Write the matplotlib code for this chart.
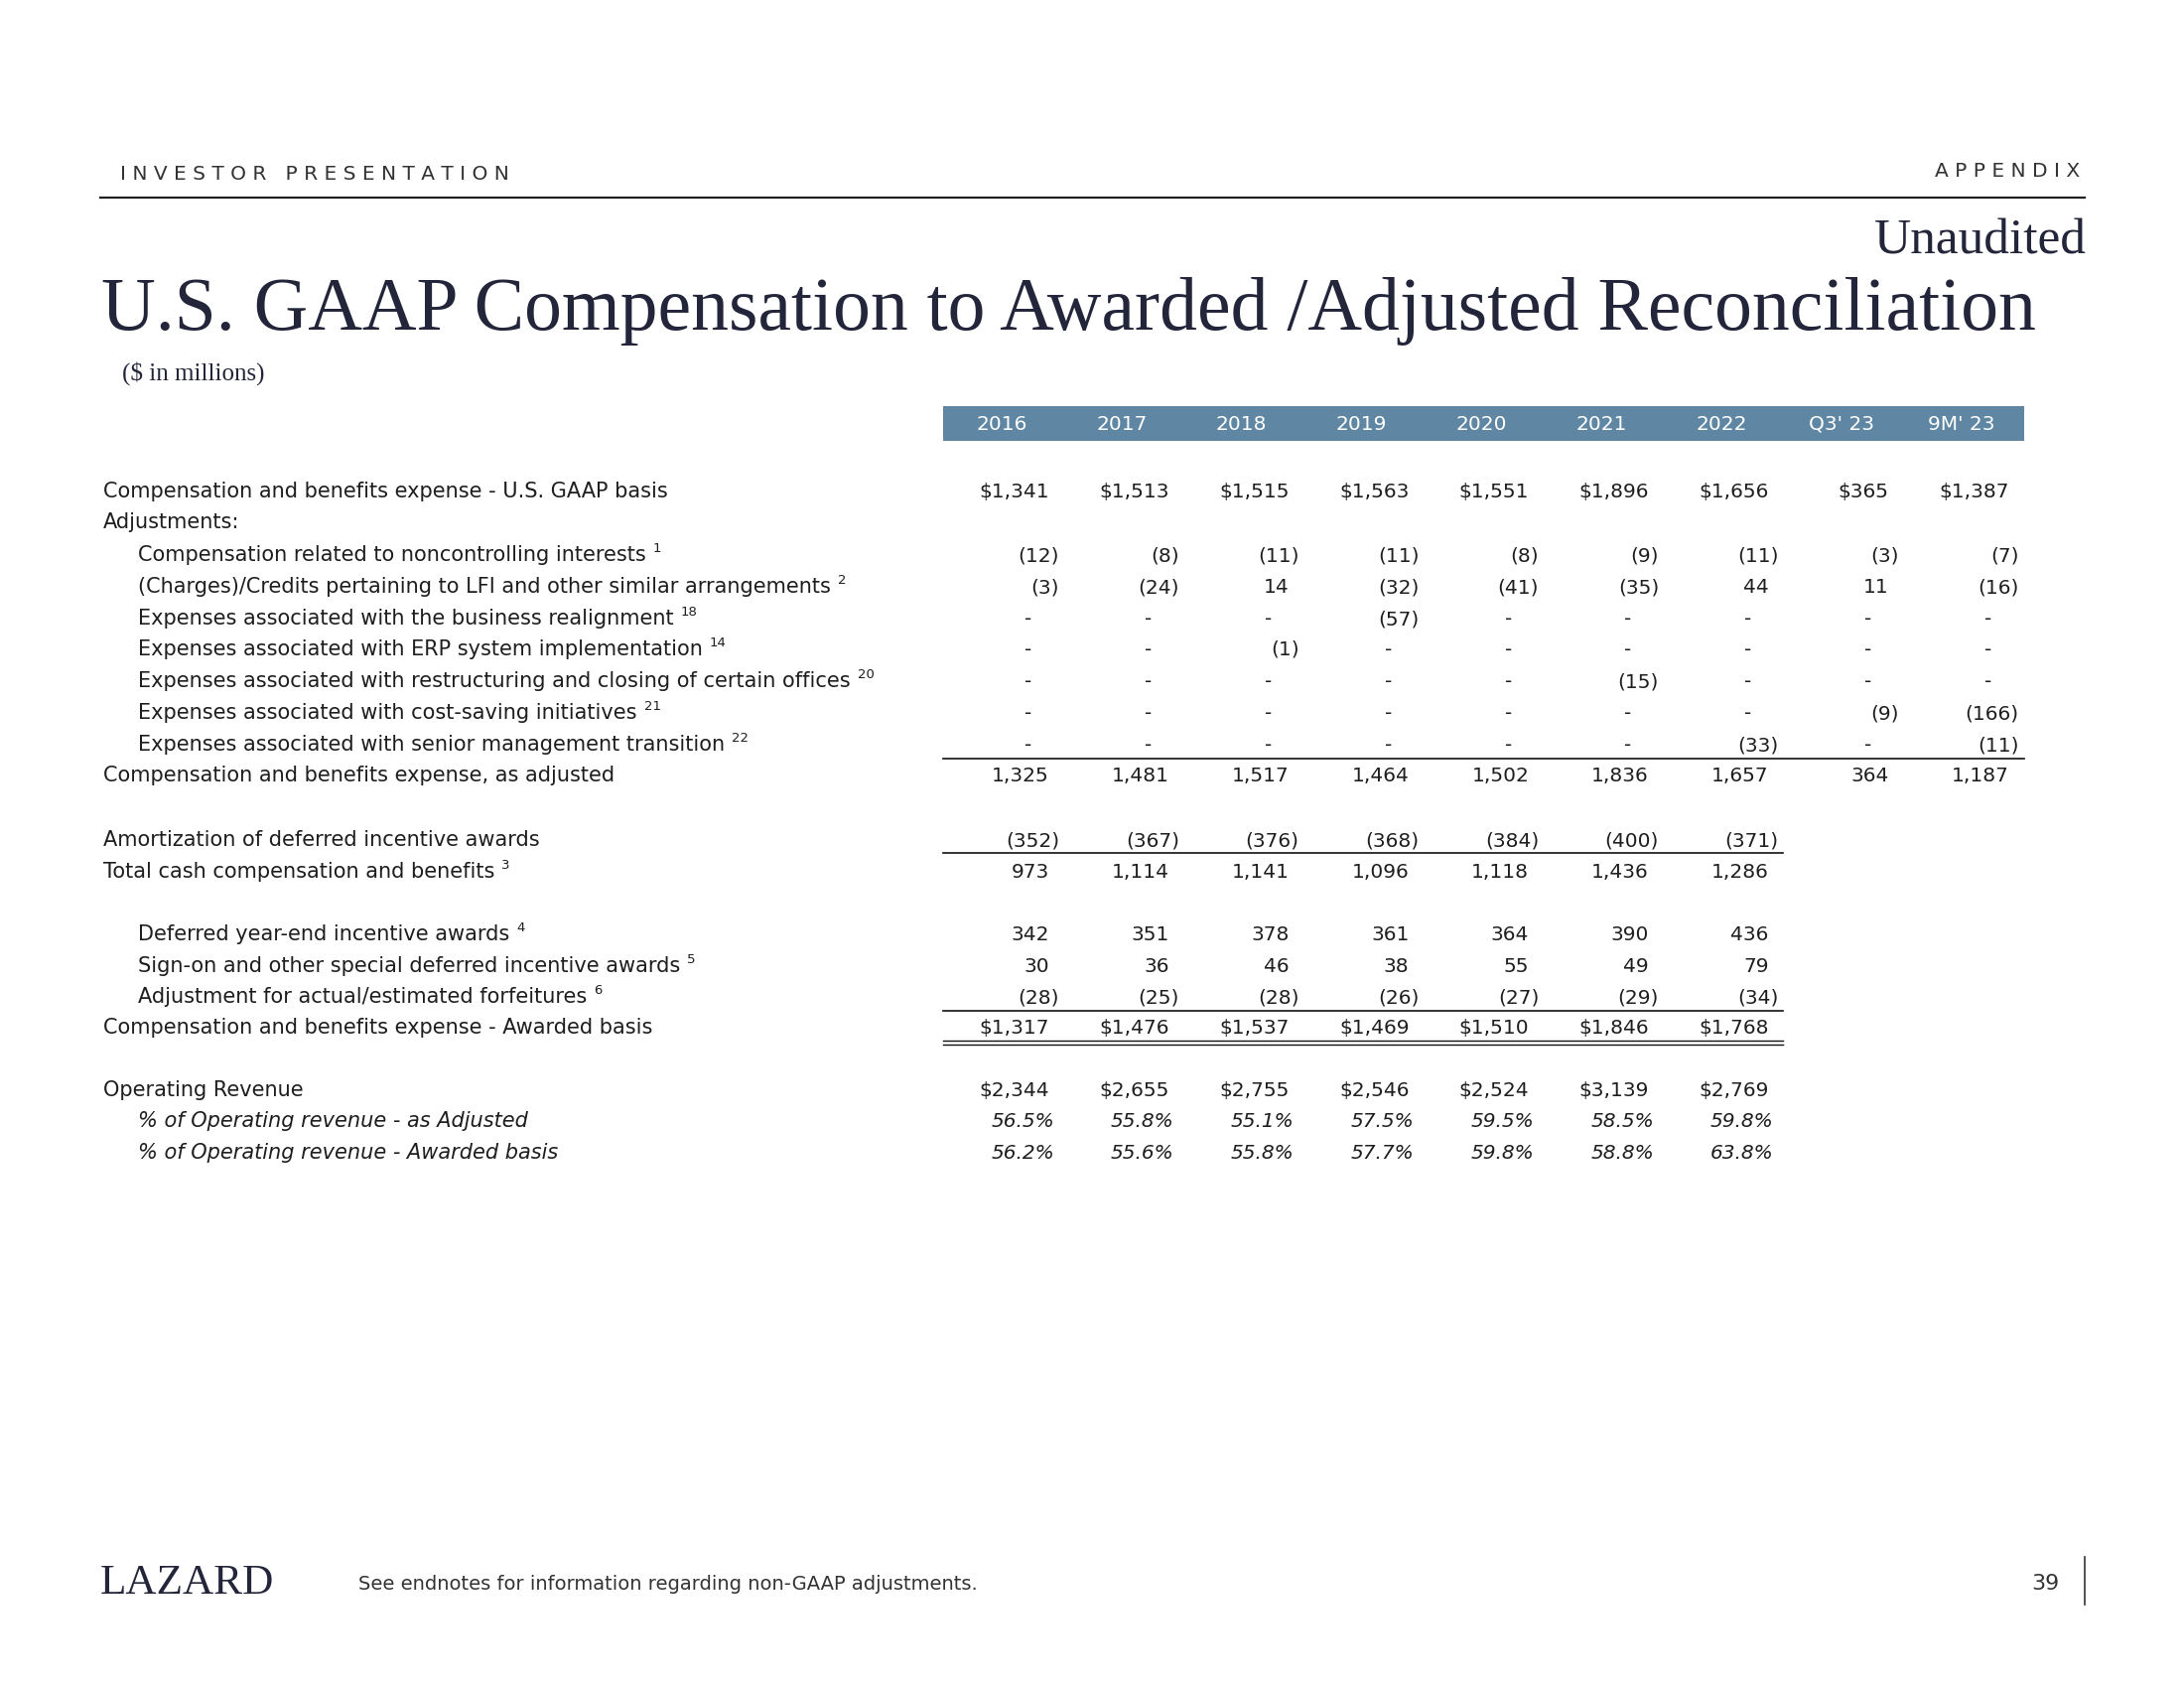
import matplotlib
matplotlib.use('Agg')
import matplotlib.pyplot as plt

# ---- data ----
columns = ['2016', '2017', '2018', '2019', '2020', '2021', '2022', "Q3' 23", "9M' 23"]

gaap_comp = [1341, 1513, 1515, 1563, 1551, 1896, 1656, 365, 1387]
nci_comp = [-12, -8, -11, -11, -8, -9, -11, -3, -7]
lfi_charges = [-3, -24, 14, -32, -41, -35, 44, 11, -16]
realignment = [0, 0, 0, -57, 0, 0, 0, 0, 0]
erp_impl = [0, 0, -1, 0, 0, 0, 0, 0, 0]
restructuring = [0, 0, 0, 0, 0, -15, 0, 0, 0]
cost_saving = [0, 0, 0, 0, 0, 0, 0, -9, -166]
senior_mgmt = [0, 0, 0, 0, 0, 0, -33, 0, -11]
adjusted_comp = [1325, 1481, 1517, 1464, 1502, 1836, 1657, 364, 1187]

amortization = [-352, -367, -376, -368, -384, -400, -371]
total_cash = [973, 1114, 1141, 1096, 1118, 1436, 1286]
deferred_awards = [342, 351, 378, 361, 364, 390, 436]
signon_awards = [30, 36, 46, 38, 55, 49, 79]
forfeitures = [-28, -25, -28, -26, -27, -29, -34]
awarded_comp = [1317, 1476, 1537, 1469, 1510, 1846, 1768]

operating_revenue = [2344, 2655, 2755, 2546, 2524, 3139, 2769]
pct_adjusted = [56.5, 55.8, 55.1, 57.5, 59.5, 58.5, 59.8]
pct_awarded = [56.2, 55.6, 55.8, 57.7, 59.8, 58.8, 63.8]

# label, superscript, indented, values, kind, y-centre
rows = [
    ('Compensation and benefits expense - U.S. GAAP basis', '', False, gaap_comp, 'dollar', 494),
    ('Adjustments:', '', False, None, 'num', 525),
    ('Compensation related to noncontrolling interests', '1', True, nci_comp, 'num', 558),
    ('(Charges)/Credits pertaining to LFI and other similar arrangements', '2', True, lfi_charges, 'num', 590),
    ('Expenses associated with the business realignment', '18', True, realignment, 'num', 622),
    ('Expenses associated with ERP system implementation', '14', True, erp_impl, 'num', 653),
    ('Expenses associated with restructuring and closing of certain offices', '20', True, restructuring, 'num', 685),
    ('Expenses associated with cost-saving initiatives', '21', True, cost_saving, 'num', 717),
    ('Expenses associated with senior management transition', '22', True, senior_mgmt, 'num', 749),
    ('Compensation and benefits expense, as adjusted', '', False, adjusted_comp, 'num', 780),
    ('Amortization of deferred incentive awards', '', False, amortization, 'num', 845),
    ('Total cash compensation and benefits', '3', False, total_cash, 'num', 877),
    ('Deferred year-end incentive awards', '4', True, deferred_awards, 'num', 940),
    ('Sign-on and other special deferred incentive awards', '5', True, signon_awards, 'num', 972),
    ('Adjustment for actual/estimated forfeitures', '6', True, forfeitures, 'num', 1003),
    ('Compensation and benefits expense - Awarded basis', '', False, awarded_comp, 'dollar', 1034),
    ('Operating Revenue', '', False, operating_revenue, 'dollar', 1097),
    ('% of Operating revenue - as Adjusted', '', True, pct_adjusted, 'pct', 1128),
    ('% of Operating revenue - Awarded basis', '', True, pct_awarded, 'pct', 1160),
]

sans = ['DejaVu Sans']
serif = ['Liberation Serif', 'DejaVu Serif']
navy = '#23263a'
ink = '#1e1e1e'
bar_col = '#5f87a3'
fs_label = 15
fs_num = 14.5

fig = plt.figure(figsize=(22, 17), dpi=100)
ax = fig.add_axes([0, 0, 1, 1])
ax.set_xlim(0, 2200)
ax.set_ylim(1700, 0)
ax.axis('off')
renderer = fig.canvas.get_renderer()


def fit_text(x, y, s, width, size, **kw):
    t = ax.text(x, y, s, fontsize=size, **kw)
    w = t.get_window_extent(renderer).width
    t.set_fontsize(size * width / w)
    return t


def fmt(v, kind):
    if v == 0:
        return '-'
    if kind == 'pct':
        return f'{v:.1f}%'
    s = f'{abs(v):,}'
    if kind == 'dollar':
        s = '$' + s
    return f'({s})' if v < 0 else s


# ---- header ----
ax.text(121, 181, ' '.join('INVESTOR') + '   ' + ' '.join('PRESENTATION'),
        fontsize=14.5, family=sans, color='#333333', va='baseline')
ax.text(2095, 178, ' '.join('APPENDIX'), fontsize=14.5, family=sans,
        color='#333333', va='baseline', ha='right')
ax.plot([101, 2100], [199, 199], color='#222222', lw=1.6)
ax.text(2102, 255, 'Unaudited', fontsize=37, family=serif, color=navy,
        ha='right', va='baseline')
fit_text(102, 332, 'U.S. GAAP Compensation to Awarded /Adjusted Reconciliation',
         1946, 55, family=serif, color=navy, va='baseline')
ax.text(123, 383, '($ in millions)', fontsize=18, family=serif, color=navy,
        va='baseline')

# ---- table header bar ----
col_right = [1057 + 120.8 * i for i in range(len(columns))]
ax.fill_between([950, 2039], 409, 444, color=bar_col, lw=0)
for i, c in enumerate(columns):
    ax.text(col_right[i] - 48, 427, c, fontsize=fs_num, family=sans,
            color='white', ha='center', va='center')

# ---- rows ----
for label, sup, indent, vals, kind, yc in rows:
    x0 = 139 if indent else 104
    base = yc + 7
    t = ax.text(x0, base, label, fontsize=fs_label, family=sans, color=ink,
                va='baseline', style='italic' if kind == 'pct' else 'normal')
    if sup:
        bb = t.get_window_extent(renderer)
        xe = ax.transData.inverted().transform((bb.x1, bb.y0))[0]
        ax.text(xe + 7, base - 9, sup, fontsize=9.5, family=sans, color=ink,
                va='baseline')
    if vals is None:
        continue
    for i, v in enumerate(vals):
        s = fmt(v, kind)
        if s == '-':
            ax.text(col_right[i] - 21, base, s, fontsize=fs_num, family=sans,
                    color=ink, ha='center', va='baseline')
        elif kind == 'pct':
            ax.text(col_right[i] + 5, base, s, fontsize=fs_num, family=sans,
                    color=ink, ha='right', va='baseline', style='italic')
        else:
            xr = col_right[i] + 10 if v < 0 else col_right[i]
            ax.text(xr, base, s, fontsize=fs_num, family=sans, color=ink,
                    ha='right', va='baseline')

# ---- rule lines ----
ax.plot([950, 2039], [764, 764], color='#111111', lw=1.2)
ax.plot([950, 1796], [859, 859], color='#111111', lw=1.2)
ax.plot([950, 1796], [1018, 1018], color='#111111', lw=1.2)
ax.plot([950, 1796], [1048, 1048], color='#111111', lw=1.0)
ax.plot([950, 1796], [1052, 1052], color='#111111', lw=1.0)

# ---- footer ----
fit_text(101, 1605, 'LAZARD', 175, 30, family=serif, color=navy, va='baseline')
ax.text(361, 1601, 'See endnotes for information regarding non-GAAP adjustments.',
        fontsize=14, family=sans, color='#333333', va='baseline')
ax.text(2075, 1601, '39', fontsize=16, family=sans, color='#333333',
        ha='right', va='baseline')
ax.plot([2100, 2100], [1568, 1616], color='#333333', lw=1.2)

fig.savefig('out.png', dpi=100, facecolor='white')
